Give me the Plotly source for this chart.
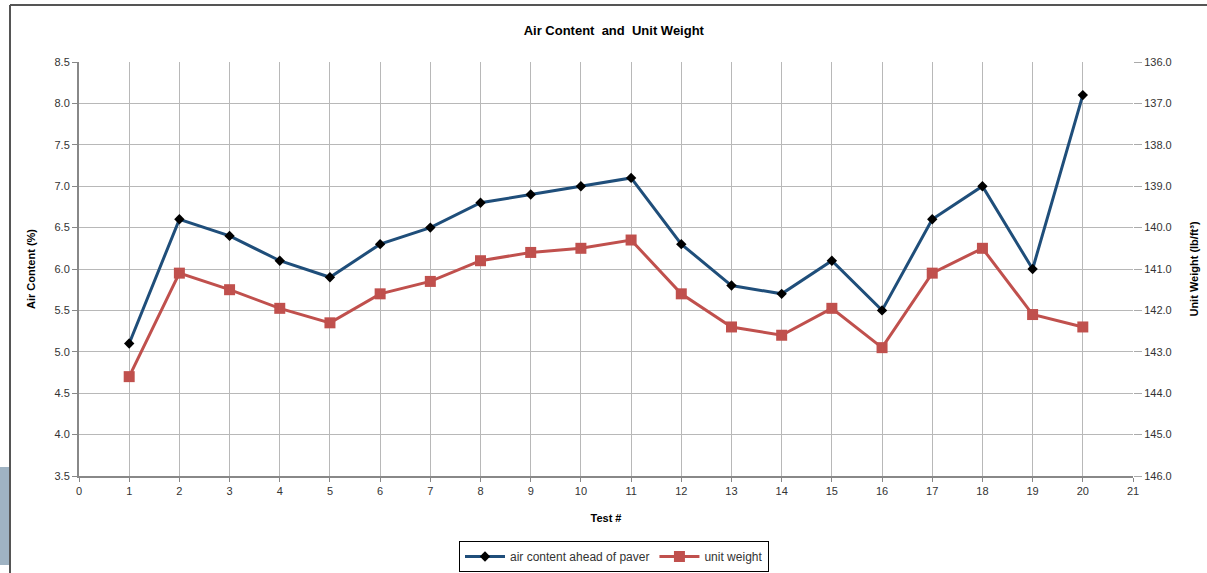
import plotly.graph_objects as go

tests = list(range(1, 21))
air_content = [5.1, 6.6, 6.4, 6.1, 5.9, 6.3, 6.5, 6.8, 6.9, 7.0,
               7.1, 6.3, 5.8, 5.7, 6.1, 5.5, 6.6, 7.0, 6.0, 8.1]
unit_weight = [143.6, 141.1, 141.5, 141.95, 142.3, 141.6, 141.3, 140.8, 140.6, 140.5,
               140.3, 141.6, 142.4, 142.6, 141.95, 142.9, 141.1, 140.5, 142.1, 142.4]

W, H = 1207, 573
L, R, T, B = 79, 74, 62, 97
pw, ph = W - L - R, H - T - B

def px(x):
    return (x - L) / pw

def py(y):
    return (H - B - y) / ph

fig = go.Figure()
fig.add_trace(go.Scatter(
    x=tests, y=air_content, name="air content ahead of paver",
    mode="lines+markers",
    line=dict(color="#1f4e7a", width=3),
    marker=dict(symbol="diamond", size=8, color="black"),
    yaxis="y"))
fig.add_trace(go.Scatter(
    x=tests, y=unit_weight, name="unit weight",
    mode="lines+markers",
    line=dict(color="#c0504d", width=3),
    marker=dict(symbol="square", size=11, color="#c0504d"),
    yaxis="y2"))

font = "Liberation Sans, Arial, sans-serif"
grid = "#b8b8b8"
fig.update_layout(
    width=W, height=H,
    margin=dict(l=L, r=R, t=T, b=B, autoexpand=False),
    paper_bgcolor="white", plot_bgcolor="white",
    font=dict(family=font, size=11, color="#333333"),
    title=dict(text="<b>Air Content  and  Unit Weight</b>", x=px(615), xanchor="center",
               y=1 - 30 / H, yanchor="middle", font=dict(size=13, color="black")),
    xaxis=dict(range=[0, 21], dtick=1, tick0=0, showgrid=True, gridcolor=grid, gridwidth=1,
               showline=True, linecolor="#888888", linewidth=2, ticks="outside", ticklen=4,
               tickcolor="#888888", zeroline=False, automargin=False,
               title=dict(text="<b>Test #</b>", font=dict(size=11, color="black"), standoff=18)),
    yaxis=dict(range=[3.5, 8.5], dtick=0.5, tick0=3.5, tickformat=".1f", showgrid=True,
               gridcolor=grid, gridwidth=1, showline=True, linecolor="#888888", linewidth=2,
               ticks="outside", ticklen=5, tickcolor="#888888", zeroline=False, automargin=False,
               title=dict(text="<b>Air Content (%)</b>", font=dict(size=11, color="black"), standoff=17)),
    yaxis2=dict(range=[146, 136], dtick=1, tick0=136, tickformat=".1f", overlaying="y",
                side="right", showgrid=False, showline=False, ticks="outside", ticklen=8,
                tickcolor="#aaaaaa", zeroline=False, automargin=False,
                title=dict(text="<b>Unit Weight (lb/ft³)</b>", font=dict(size=11, color="black"), standoff=19)),
    legend=dict(orientation="h", x=px(614), xanchor="center", y=py(541), yanchor="top",
                bordercolor="black", borderwidth=1, bgcolor="white",
                font=dict(size=12, color="#333333"), itemwidth=40, tracegroupgap=0),
    showlegend=True,
    shapes=[
        dict(type="line", xref="paper", yref="paper", x0=px(10), x1=px(1207), y0=py(5), y1=py(5),
             line=dict(color="#555555", width=2)),
        dict(type="line", xref="paper", yref="paper", x0=px(10), x1=px(10), y0=py(5), y1=py(573),
             line=dict(color="#555555", width=2)),
        dict(type="rect", xref="paper", yref="paper", x0=px(0), x1=px(9), y0=py(467), y1=py(565),
             fillcolor="#9fb3c3", line=dict(width=0)),
    ],
)

fig.write_html("out.html", config={"displayModeBar": False},
               post_script="document.body.style.margin='0';document.body.style.overflow='hidden';")
